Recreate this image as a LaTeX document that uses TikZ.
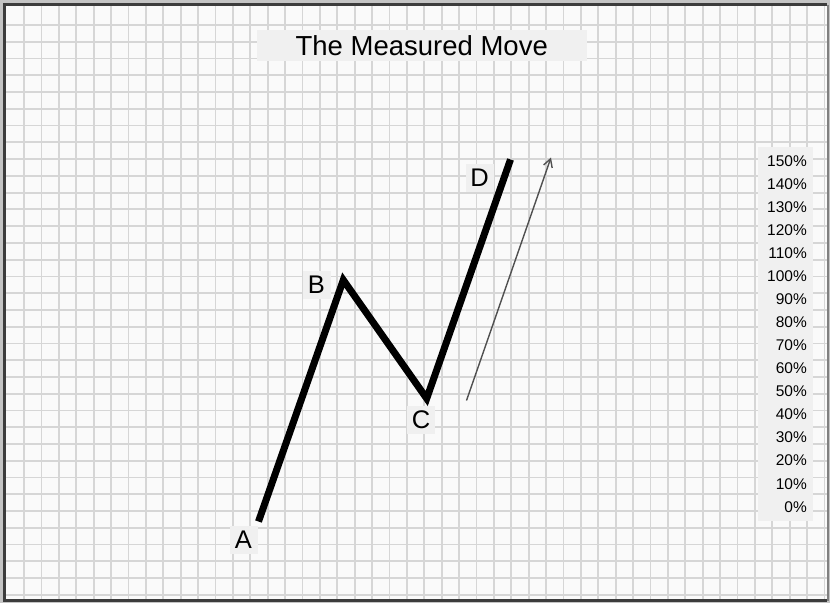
\documentclass[tikz,border=0pt]{standalone}
\usepackage{fontspec}
\setmainfont{Liberation Sans}
\usepackage{tikz}
\usetikzlibrary{arrows.meta,positioning}

\definecolor{outergray}{RGB}{196,196,196}
\definecolor{framedark}{RGB}{60,60,60}
\definecolor{paper}{RGB}{250,250,250}
\definecolor{gridgray}{RGB}{214,214,214}
\definecolor{boxgray}{RGB}{240,240,240}
\definecolor{arrowgray}{RGB}{80,80,80}

\begin{document}
\begin{tikzpicture}[
        x=1pt, y=-1pt,
        gridline/.style={draw=gridgray, line width=1.8pt},
        titlebox/.style={rectangle, fill=boxgray, minimum width=330pt, minimum height=30.5pt, inner sep=0pt, font=\fontsize{27.5}{30}\selectfont},
        pointlabel/.style={rectangle, fill=boxgray, minimum size=28pt, inner sep=0pt, font=\fontsize{25.5}{28}\selectfont},
        pctlabel/.style={anchor=east, inner sep=0pt, font=\fontsize{15.5}{17}\selectfont},
        wave/.style={line width=7pt, line join=miter, line cap=butt},
        move/.style={-{Straight Barb[length=8pt,width=9pt]}, draw=arrowgray, line width=1.4pt}
    ]
    \useasboundingbox (0,0) rectangle (830,603);

    % Frame and paper
    \fill[outergray] (0,0) rectangle (830,603);
    \fill[paper] (6,6) rectangle (827,599);

    % Grid
    \begin{scope}
        \clip (6,6) rectangle (827,599);
        \foreach \k in {0,...,46} {
            \draw[gridline] (24+17.4*\k,6) -- (24+17.4*\k,599);
        }
        \foreach \k in {0,...,34} {
            \draw[gridline] (6,25+16.76*\k) -- (827,25+16.76*\k);
        }
    \end{scope}
    \draw[framedark, line width=3pt] (827,4.5) -- (4.5,4.5) -- (4.5,600.5) -- (827,600.5);
    \draw[gray, line width=2pt] (828,4.5) -- (828,600.5);

    % Title
    \node[titlebox] (title) at (421.75,45.25) {The Measured Move};

    % Scale
    \fill[boxgray] (758,147) rectangle (813,521);
    \foreach \i in {0,...,15} {
        \node[pctlabel] (pct\i) at (807,160.7+23.07*15-23.07*\i) {\pgfmathparse{int(10*\i)}\pgfmathresult\%};
    }

    % Turning points
    \coordinate (pA) at (258.5,521.5);
    \coordinate (pB) at (343.3,280);
    \coordinate (pC) at (426.7,398.5);
    \coordinate (pD) at (510.5,159.5);

    \node[pointlabel] (A) at (243.5,539.5) {A};
    \node[pointlabel] (B) at (316.5,285) {B};
    \node[pointlabel] (C) at (421,420) {C};
    \node[pointlabel] (D) at (479.5,177.5) {D};

    % Price swing
    \draw[wave] (pA) -- (pB) -- (pC) -- (pD);

    % Projected move
    \coordinate (mvstart) at (466.5,400.5);
    \coordinate (mvend) at (551,157.5);
    \draw[move] (mvstart) -- (mvend);

\end{tikzpicture}
\end{document}
